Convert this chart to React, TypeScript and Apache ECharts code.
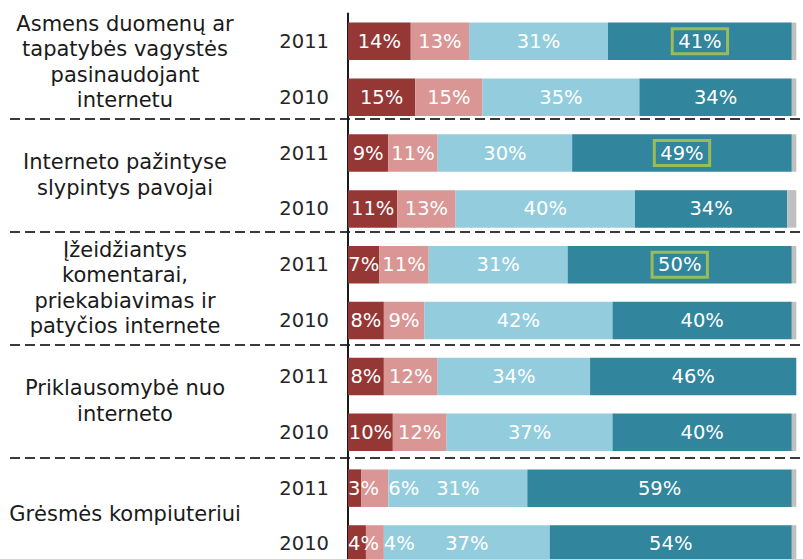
import React, { useEffect, useRef } from "react";
import * as echarts from "echarts";

const groupLabels = [
  "Asmens duomenų ar\ntapatybės vagystės\npasinaudojant\ninternetu",
  "Interneto pažintyse\nslypintys pavojai",
  "Įžeidžiantys\nkomentarai,\npriekabiavimas ir\npatyčios internete",
  "Priklausomybė nuo\ninterneto",
  "Grėsmės kompiuteriui",
];
const years = ["2011", "2010", "2011", "2010", "2011", "2010", "2011", "2010", "2011", "2010"];
const barIds = years.map((y, i) => `${i}-${y}`);

const darkRed = [14, 15, 9, 11, 7, 8, 8, 10, 3, 4];
const pink = [13, 15, 11, 13, 11, 9, 12, 12, 6, 4];
const lightBlue = [31, 35, 30, 40, 31, 42, 34, 37, 31, 37];
const teal = [41, 34, 49, 34, 50, 40, 46, 40, 59, 54];
const gray = [1, 1, 1, 2, 1, 1, 0, 1, 1, 1];
const boxedTeal = [0, 2, 4];

const colors = ["#953735", "#D99694", "#93CDDD", "#31859C", "#BFBFBF"];
const FONT = "DejaVu Sans";

export default function App() {
  const ref = useRef<HTMLDivElement>(null);
  useEffect(() => {
    if (!ref.current) return;
    const chart = echarts.init(ref.current, null, { renderer: "svg" });
    const baseLabel = {
      show: true,
      position: "inside",
      formatter: "{c}%",
      color: "#ffffff",
      fontSize: 19.5,
      fontFamily: FONT,
    };
    const mk = (name: string, data: any[], idx: number, extra: any = {}) => ({
      name,
      type: "bar",
      stack: "total",
      xAxisIndex: 0,
      yAxisIndex: 0,
      barWidth: 37.5,
      data,
      itemStyle: { color: colors[idx] },
      label: idx === 4 ? { show: false } : baseLabel,
      ...extra,
    });
    chart.setOption({
      animation: false,
      textStyle: { fontFamily: FONT },
      grid: [
        { left: 348, right: 6.7, top: 13.4, height: 558.5, outerBoundsMode: "none", containLabel: false },
        { left: 10, right: 0, top: 5.5, height: 565, outerBoundsMode: "none", containLabel: false },
      ],
      xAxis: [
        { type: "value", gridIndex: 0, min: 0, max: 100, show: false },
        { type: "value", gridIndex: 1, show: false },
      ],
      yAxis: [
        {
          type: "category",
          gridIndex: 0,
          inverse: true,
          data: barIds,
          axisLine: { show: true, lineStyle: { color: "#1a1a1a", width: 2 } },
          axisTick: { show: false },
          splitLine: { show: false },
          axisLabel: {
            interval: 0,
            margin: 19,
            fontSize: 19.5,
            color: "#262626",
            fontFamily: FONT,
            formatter: (_v: string, i: number) => years[i],
          },
        },
        {
          type: "category",
          gridIndex: 1,
          inverse: true,
          data: groupLabels,
          axisLine: { show: false },
          axisTick: { show: false },
          splitLine: {
            show: true,
            showMinLine: false,
            showMaxLine: false,
            lineStyle: { color: "#3a3a3a", width: 2, type: [10, 5] },
          },
          axisLabel: {
            interval: 0,
            margin: -115,
            align: "center",
            fontSize: 21,
            lineHeight: 25.5,
            color: "#1a1a1a",
            fontFamily: FONT,
          },
        },
      ],
      series: [
        mk("a", darkRed, 0, {
          labelLayout: (p: any) =>
            p.labelRect.width > p.rect.width ? { dx: p.rect.x - p.labelRect.x } : {},
        }),
        mk("b", pink, 1, {
          labelLayout: (p: any) =>
            p.labelRect.width > p.rect.width
              ? { dx: p.rect.x + p.rect.width - p.labelRect.x }
              : {},
        }),
        mk("c", lightBlue, 2),
        mk(
          "d",
          teal.map((v, i) =>
            boxedTeal.includes(i)
              ? {
                  value: v,
                  label: { borderColor: "#9BBB59", borderWidth: 3, padding: [3, 6, 2, 6] },
                }
              : v
          ),
          3
        ),
        mk("e", gray, 4),
      ],
    });
    return () => chart.dispose();
  }, []);
  return <div ref={ref} style={{ width: 803, height: 559, position: "absolute", left: 0, top: 0 }} />;
}
